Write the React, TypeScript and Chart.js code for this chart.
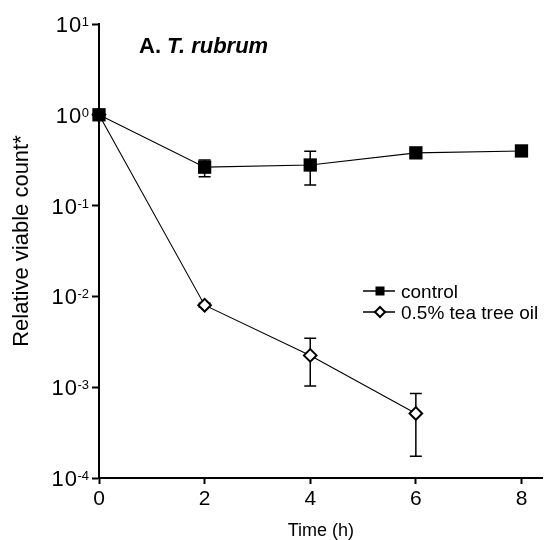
import React, { useEffect, useRef } from 'react';
import { Chart, registerables } from 'chart.js';

Chart.register(...registerables);

// ---- data ----
const timeHours = [0, 2, 4, 6, 8];
const controlValues = [1.0, 0.265, 0.28, 0.381, 0.4];
const controlErrLow = [1.0, 0.208, 0.169, 0.36, 0.39];
const controlErrHigh = [1.0, 0.318, 0.397, 0.4, 0.41];

const teaTimeHours = [0, 2, 4, 6];
const teaValues = [1.0, 0.008, 0.00224, 0.000514];
const teaErrLow = [1.0, 0.0076, 0.00103, 0.000174];
const teaErrHigh = [1.0, 0.0084, 0.00346, 0.000855];

const xTicks = [0, 2, 4, 6, 8];
const yTickExponents = [-4, -3, -2, -1, 0, 1];
const seriesLabels = ['control', '0.5% tea tree oil'];
const titlePrefix = 'A. ';
const titleSpecies = 'T. rubrum';
const xAxisTitle = 'Time (h)';
const yAxisTitle = 'Relative viable count*';

const FONT = '"Liberation Sans", Arial, Helvetica, sans-serif';

const toSuper = (e: number) => (e < 0 ? '-' + Math.abs(e) : String(e));

const overlayPlugin = {
  id: 'overlay',
  beforeDatasetsDraw(chart: any) {
    const { ctx } = chart;
    const xs = chart.scales.x;
    const ys = chart.scales.y;
    ctx.save();
    ctx.strokeStyle = '#000';
    ctx.lineWidth = 1.5;
    const drawBars = (tx: number[], lo: number[], hi: number[]) => {
      for (let i = 0; i < tx.length; i++) {
        const px = xs.getPixelForValue(tx[i]);
        const y1 = ys.getPixelForValue(lo[i]);
        const y2 = ys.getPixelForValue(hi[i]);
        if (Math.abs(y2 - y1) < 0.5) continue;
        ctx.beginPath();
        ctx.moveTo(px, y1);
        ctx.lineTo(px, y2);
        ctx.moveTo(px - 6, y1);
        ctx.lineTo(px + 6, y1);
        ctx.moveTo(px - 6, y2);
        ctx.lineTo(px + 6, y2);
        ctx.stroke();
      }
    };
    drawBars(timeHours, controlErrLow, controlErrHigh);
    drawBars(teaTimeHours, teaErrLow, teaErrHigh);
    ctx.restore();
  },
  afterDraw(chart: any) {
    const { ctx, chartArea } = chart;
    const ys = chart.scales.y;
    ctx.save();
    ctx.fillStyle = '#000';

    // y tick labels 10^n
    ctx.textBaseline = 'alphabetic';
    yTickExponents.forEach((e) => {
      const py = ys.getPixelForValue(Math.pow(10, e));
      const right = 89;
      ctx.font = `13px ${FONT}`;
      ctx.textAlign = 'right';
      const sup = toSuper(e);
      ctx.fillText(sup, right, py + 2);
      const supW = ctx.measureText(sup).width;
      ctx.font = `22px ${FONT}`;
      (ctx as any).letterSpacing = '1px';
      ctx.fillText('10', right - supW + 0.5, py + 8);
      (ctx as any).letterSpacing = '0px';
    });

    // y axis title
    ctx.save();
    ctx.translate(28, 241);
    ctx.rotate(-Math.PI / 2);
    ctx.font = `22px ${FONT}`;
    ctx.textAlign = 'center';
    ctx.fillText(yAxisTitle, 0, 0);
    ctx.restore();

    // x axis title
    ctx.font = `18px ${FONT}`;
    ctx.textAlign = 'center';
    ctx.fillText(xAxisTitle, (chartArea.left + chartArea.right) / 2, 536);

    // panel title
    ctx.textAlign = 'left';
    ctx.font = `bold 22px ${FONT}`;
    ctx.fillText(titlePrefix, 139, 53);
    const w = ctx.measureText(titlePrefix).width;
    ctx.font = `italic bold 22px ${FONT}`;
    ctx.fillText(titleSpecies, 139 + w, 53);

    // legend
    const lx0 = 363;
    const lx1 = 395;
    const mx = 380;
    const rows = [291, 312];
    ctx.strokeStyle = '#000';
    ctx.lineWidth = 1.5;
    rows.forEach((ry, i) => {
      ctx.beginPath();
      ctx.moveTo(lx0, ry);
      ctx.lineTo(lx1, ry);
      ctx.stroke();
      if (i === 0) {
        ctx.fillStyle = '#000';
        ctx.fillRect(mx - 4.5, ry - 4.5, 9, 9);
      } else {
        ctx.beginPath();
        ctx.moveTo(mx, ry - 5);
        ctx.lineTo(mx + 5, ry);
        ctx.lineTo(mx, ry + 5);
        ctx.lineTo(mx - 5, ry);
        ctx.closePath();
        ctx.fillStyle = '#fff';
        ctx.fill();
        ctx.lineWidth = 2;
        ctx.stroke();
        ctx.lineWidth = 1.5;
      }
      ctx.fillStyle = '#000';
      ctx.font = `19px ${FONT}`;
      ctx.textAlign = 'left';
      ctx.fillText(seriesLabels[i], 401, ry + 6.5);
    });
    ctx.restore();
  },
};

export default function App() {
  const canvasRef = useRef<HTMLCanvasElement | null>(null);

  useEffect(() => {
    if (!canvasRef.current) return;
    const chart = new Chart(canvasRef.current, {
      type: 'line',
      data: {
        datasets: [
          {
            label: seriesLabels[0],
            data: timeHours.map((t, i) => ({ x: t, y: controlValues[i] })),
            borderColor: '#000',
            borderWidth: 1.1,
            backgroundColor: '#000',
            pointStyle: 'rect',
            pointRadius: 9.4,
            pointBorderWidth: 0,
            pointBackgroundColor: '#000',
            clip: false,
          },
          {
            label: seriesLabels[1],
            data: teaTimeHours.map((t, i) => ({ x: t, y: teaValues[i] })),
            borderColor: '#000',
            borderWidth: 1.1,
            pointStyle: 'rectRot',
            pointRadius: 6.3,
            pointBorderWidth: 2,
            pointBorderColor: '#000',
            pointBackgroundColor: '#fff',
            clip: false,
          },
        ],
      },
      options: {
        animation: false,
        responsive: true,
        maintainAspectRatio: false,
        layout: { padding: { top: 24, right: 0, left: 0, bottom: 0 } },
        plugins: {
          legend: { display: false },
          tooltip: { enabled: false },
          title: { display: false },
        },
        scales: {
          x: {
            type: 'linear',
            min: 0,
            max: 8.4,
            afterBuildTicks: (scale: any) => {
              scale.ticks = xTicks.map((v) => ({ value: v }));
            },
            afterFit: (scale: any) => {
              scale.height = 62;
            },
            ticks: {
              color: '#000',
              font: { family: FONT, size: 21 },
              padding: 3,
              maxRotation: 0,
            },
            grid: {
              display: true,
              drawOnChartArea: false,
              drawTicks: true,
              tickLength: 6,
              tickWidth: 2,
              tickColor: '#000',
            },
            border: { display: true, color: '#000', width: 2 },
          },
          y: {
            type: 'logarithmic',
            min: 1e-4,
            max: 10,
            afterBuildTicks: (scale: any) => {
              scale.ticks = yTickExponents.map((e) => ({ value: Math.pow(10, e) }));
            },
            afterFit: (scale: any) => {
              scale.width = 99;
            },
            ticks: { display: false },
            grid: {
              display: true,
              drawOnChartArea: false,
              drawTicks: true,
              tickLength: 7,
              tickWidth: 2,
              tickColor: '#000',
            },
            border: { display: true, color: '#000', width: 2 },
          },
        },
      },
      plugins: [overlayPlugin],
    });
    return () => chart.destroy();
  }, []);

  return (
    <div style={{ position: 'absolute', left: 0, top: 0, width: 552, height: 540, background: '#fff' }}>
      <canvas ref={canvasRef} />
    </div>
  );
}
